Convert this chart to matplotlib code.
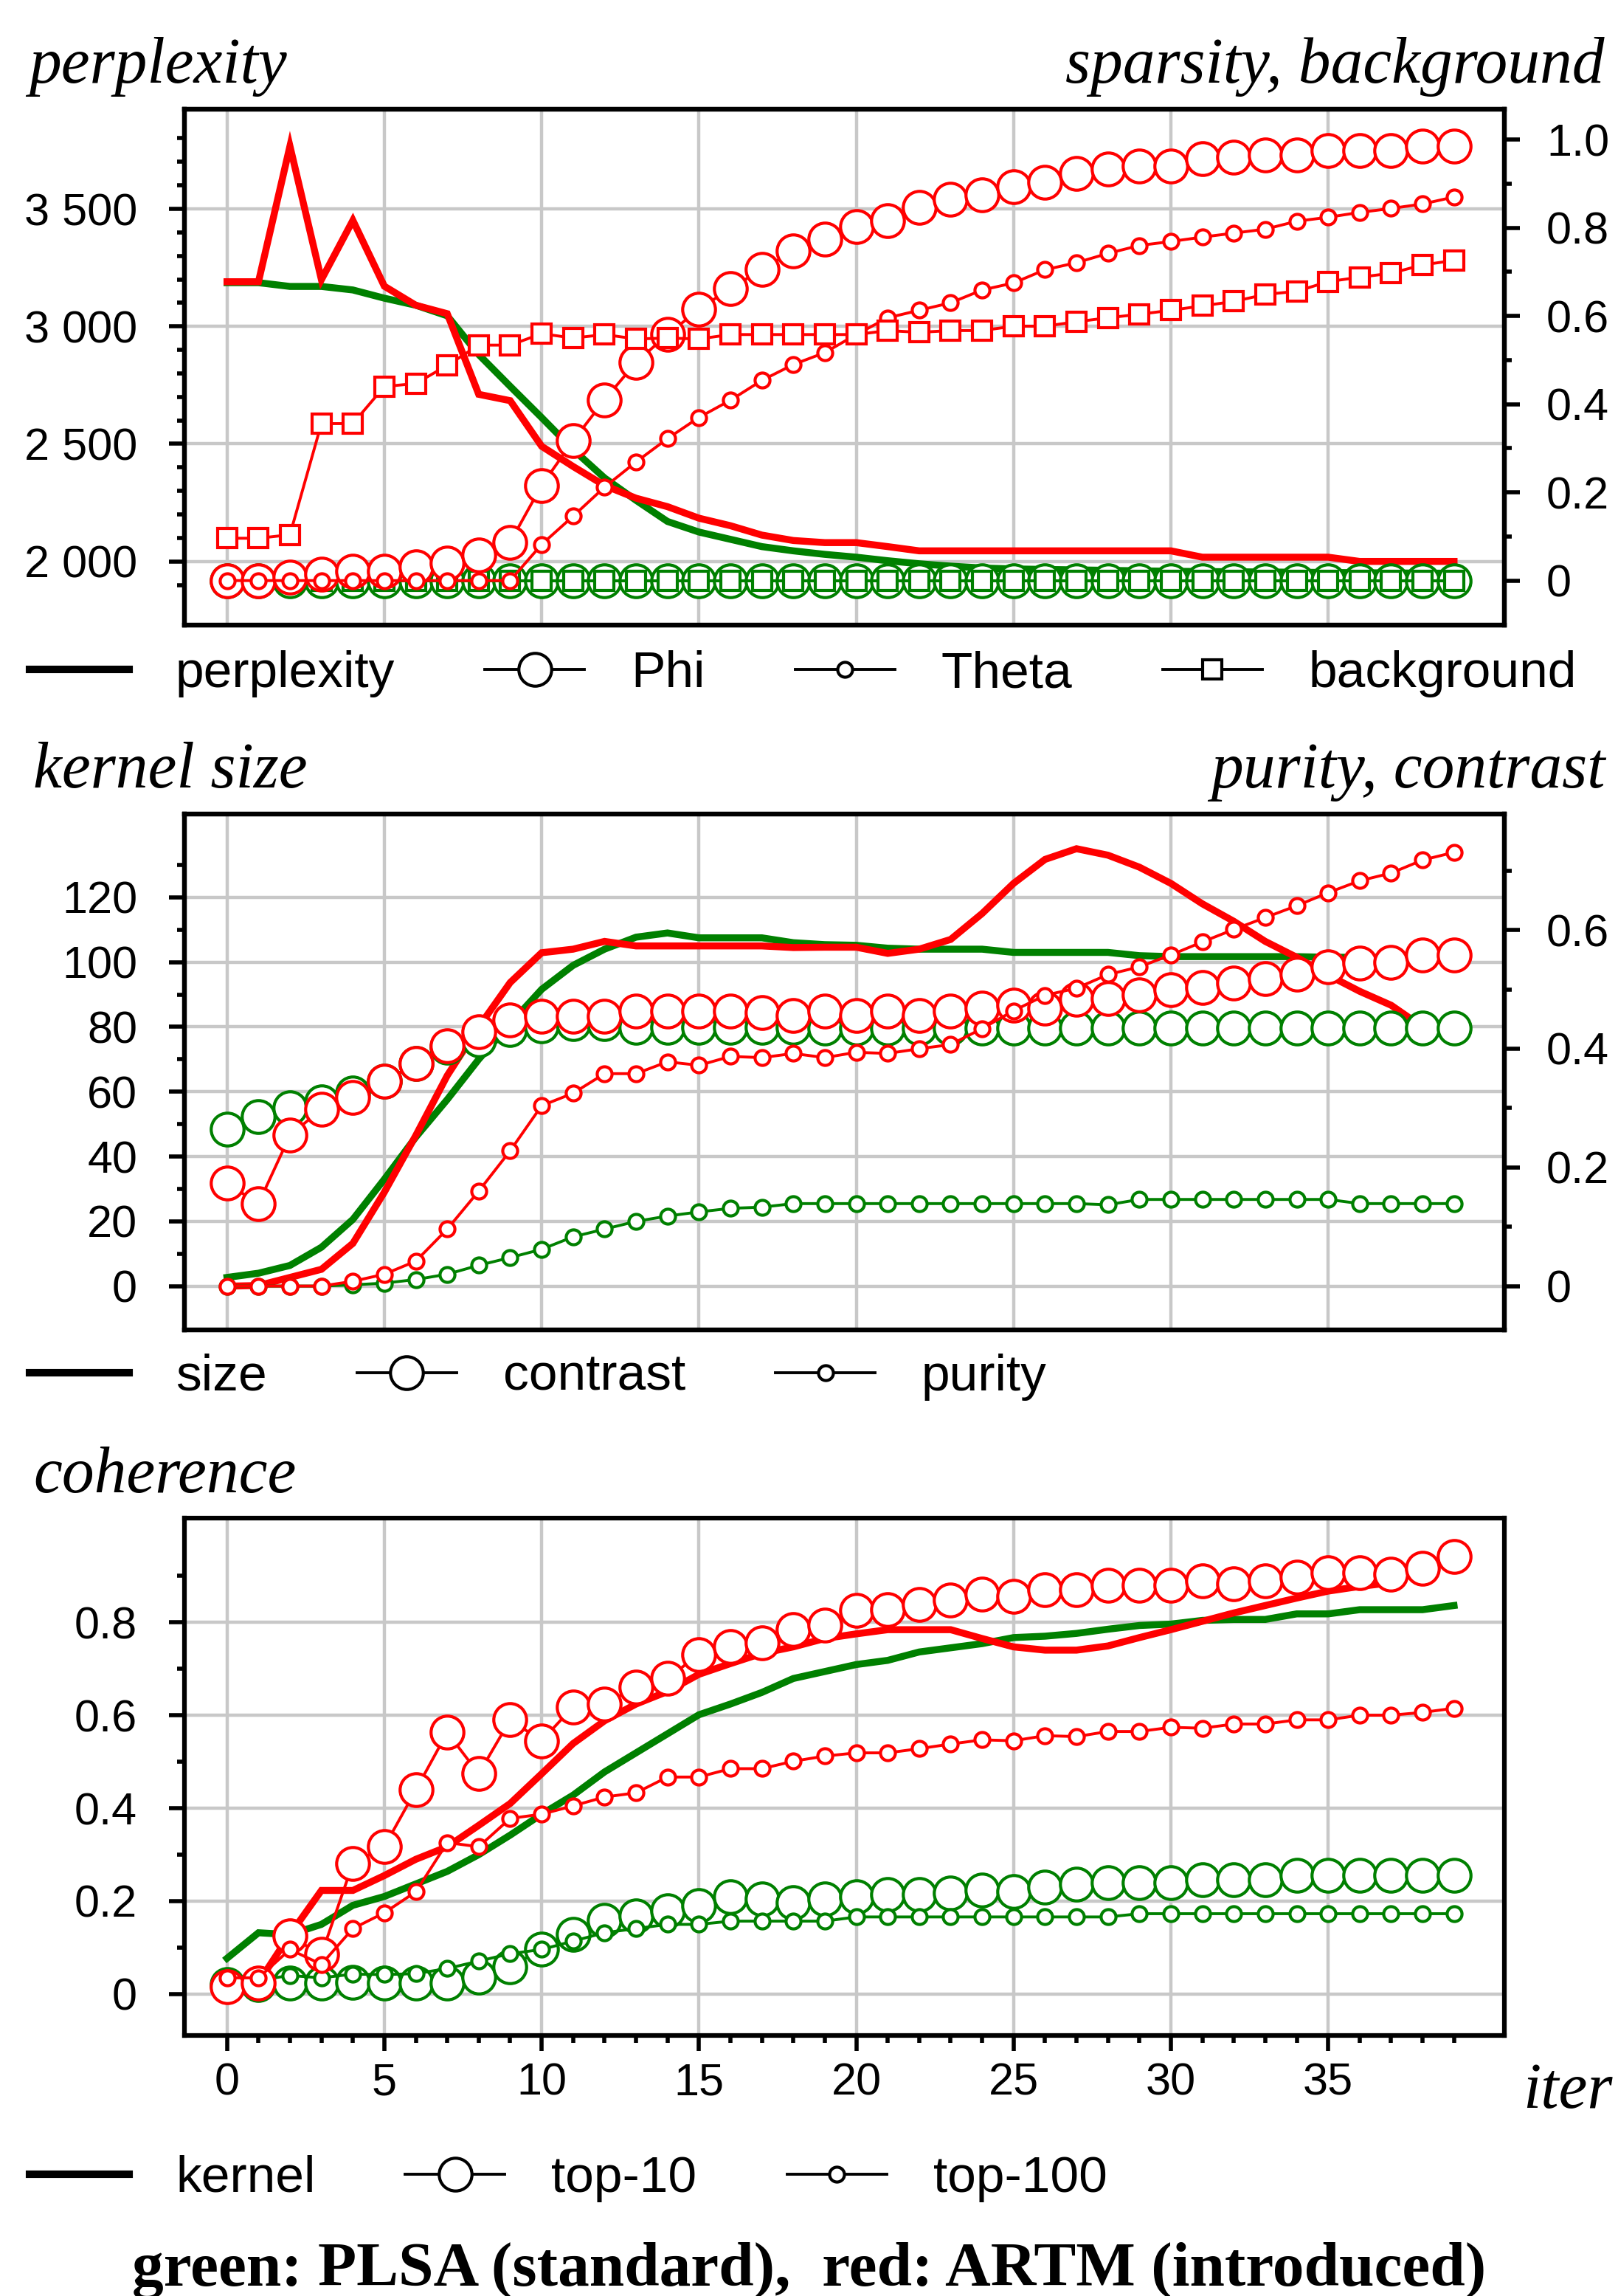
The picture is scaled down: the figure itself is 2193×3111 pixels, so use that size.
import numpy as np
import matplotlib
matplotlib.use("Agg")
import matplotlib.pyplot as plt
from matplotlib.font_manager import FontProperties
from matplotlib.ticker import FixedLocator, FuncFormatter
from matplotlib.lines import Line2D

nan = np.nan
iters = np.arange(40)

# ---------------- panel 1: perplexity / sparsity / background ----------------
plsa_perplexity = [3186, 3186, 3170, 3170, 3155, 3120, 3090, 3045, 2880, 2745,
                   2612, 2476, 2355, 2260, 2170, 2125, 2094, 2063, 2045, 2030,
                   2018, 2003, 1990, 1980, 1972, 1968, 1966, 1964, 1962, 1960,
                   1958, 1957, 1956, 1955, 1954, 1953, 1952, 1951, 1950, 1950]
artm_perplexity = [3190, 3190, 3767, 3199, 3451, 3171, 3090, 3054, 2711, 2684,
                   2490, 2404, 2323, 2269, 2233, 2184, 2152, 2112, 2089, 2080,
                   2080, 2063, 2045, 2045, 2045, 2045, 2045, 2045, 2045, 2045,
                   2045, 2018, 2018, 2018, 2018, 2018, 2000, 2000, 2000, 2000]
plsa_phi = [0.0] * 40
plsa_theta = [0.0] * 40
plsa_background = [0.0] * 40
artm_phi = [0.0, 0.0, 0.008, 0.014, 0.021, 0.021, 0.031, 0.040, 0.058, 0.087,
            0.216, 0.317, 0.410, 0.495, 0.558, 0.615, 0.663, 0.705, 0.748, 0.774,
            0.803, 0.817, 0.846, 0.865, 0.875, 0.894, 0.904, 0.923, 0.933, 0.940,
            0.940, 0.957, 0.960, 0.966, 0.966, 0.976, 0.976, 0.976, 0.986, 0.986]
artm_theta = [0.0, 0.0, 0.0, 0.0, 0.0, 0.0, 0.0, 0.0, 0.0, 0.0,
              0.082, 0.146, 0.212, 0.269, 0.322, 0.370, 0.409, 0.454, 0.490, 0.517,
              0.558, 0.596, 0.613, 0.630, 0.659, 0.675, 0.705, 0.721, 0.742, 0.760,
              0.769, 0.779, 0.788, 0.797, 0.815, 0.824, 0.835, 0.844, 0.854, 0.870]
artm_background = [0.096, 0.096, 0.104, 0.356, 0.356, 0.440, 0.447, 0.488, 0.534, 0.534,
                   0.560, 0.550, 0.558, 0.548, 0.550, 0.548, 0.558, 0.558, 0.558, 0.558,
                   0.558, 0.567, 0.563, 0.567, 0.567, 0.577, 0.577, 0.587, 0.596, 0.604,
                   0.613, 0.623, 0.633, 0.649, 0.656, 0.678, 0.688, 0.697, 0.716, 0.726]

# ---------------- panel 2: kernel size / purity / contrast ----------------
plsa_size = [2.7, 4.0, 6.4, 12.0, 20.6, 33.0, 46.0, 57.6, 70.0, 81.0,
             91.6, 99.0, 104.0, 107.7, 109.0, 107.5, 107.5, 107.5, 106.0, 105.4,
             105.2, 104.3, 104.0, 104.0, 104.0, 103.0, 103.0, 103.0, 103.0, 102.0,
             101.7, 101.7, 101.7, 101.7, 101.7, 101.5, 101.5, 101.5, 101.5, 101.5]
artm_size = [0.0, 0.2, 2.7, 5.2, 13.2, 29.0, 46.5, 65.0, 80.0, 93.7,
             102.9, 104.0, 106.4, 105.0, 105.0, 105.0, 105.0, 105.0, 104.5, 104.6,
             104.6, 102.7, 104.0, 107.0, 115.0, 124.3, 131.7, 135.0, 133.0, 129.3,
             124.3, 118.0, 112.6, 106.4, 101.5, 96.0, 91.0, 86.7, 80.0, nan]
plsa_contrast = [0.265, 0.286, 0.300, 0.310, 0.325, 0.345, 0.375, 0.402, 0.415, 0.432,
                 0.439, 0.442, 0.442, 0.436, 0.436, 0.436, 0.436, 0.436, 0.436, 0.435,
                 0.435, 0.435, 0.435, 0.435, 0.435, 0.435, 0.435, 0.435, 0.435, 0.435,
                 0.435, 0.435, 0.435, 0.435, 0.435, 0.435, 0.435, 0.435, 0.435, 0.435]
artm_contrast = [0.173, 0.139, 0.254, 0.298, 0.318, 0.345, 0.375, 0.405, 0.429, 0.449,
                 0.455, 0.455, 0.455, 0.463, 0.463, 0.463, 0.463, 0.461, 0.456, 0.463,
                 0.456, 0.463, 0.456, 0.464, 0.468, 0.473, 0.469, 0.483, 0.484, 0.491,
                 0.500, 0.503, 0.511, 0.518, 0.525, 0.538, 0.544, 0.545, 0.558, 0.558]
plsa_purity = [0.0, 0.0, 0.0, 0.0, 0.002, 0.005, 0.011, 0.020, 0.035, 0.048,
               0.062, 0.083, 0.096, 0.109, 0.118, 0.125, 0.131, 0.133, 0.139, 0.139,
               0.139, 0.139, 0.139, 0.139, 0.139, 0.139, 0.139, 0.139, 0.137, 0.146,
               0.146, 0.146, 0.146, 0.146, 0.146, 0.146, 0.139, 0.139, 0.139, 0.139]
artm_purity = [0.0, 0.0, 0.0, 0.0, 0.008, 0.020, 0.042, 0.096, 0.160, 0.228,
               0.304, 0.325, 0.358, 0.358, 0.378, 0.372, 0.387, 0.385, 0.392, 0.385,
               0.394, 0.392, 0.400, 0.407, 0.434, 0.464, 0.490, 0.502, 0.525, 0.538,
               0.558, 0.580, 0.601, 0.621, 0.641, 0.663, 0.683, 0.696, 0.718, 0.731]

# ---------------- panel 3: coherence ----------------
plsa_kernel = [0.077, 0.132, 0.128, 0.150, 0.191, 0.210, 0.237, 0.264, 0.300, 0.342,
               0.387, 0.428, 0.478, 0.519, 0.560, 0.601, 0.624, 0.649, 0.679, 0.694,
               0.709, 0.718, 0.736, 0.745, 0.754, 0.767, 0.770, 0.776, 0.785, 0.793,
               0.796, 0.804, 0.806, 0.806, 0.818, 0.818, 0.827, 0.827, 0.827, 0.836]
artm_kernel = [0.018, 0.025, 0.128, 0.223, 0.223, 0.255, 0.290, 0.317, 0.363, 0.410,
               0.474, 0.539, 0.588, 0.624, 0.651, 0.688, 0.711, 0.733, 0.747, 0.765,
               0.775, 0.784, 0.784, 0.784, 0.765, 0.747, 0.740, 0.740, 0.749, 0.767,
               0.784, 0.802, 0.820, 0.836, 0.852, 0.867, 0.877, 0.885, nan, nan]
plsa_top10 = [0.020, 0.020, 0.024, 0.024, 0.026, 0.024, 0.023, 0.023, 0.036, 0.059,
              0.096, 0.128, 0.159, 0.169, 0.180, 0.190, 0.210, 0.205, 0.196, 0.205,
              0.210, 0.214, 0.214, 0.217, 0.223, 0.220, 0.230, 0.237, 0.239, 0.239,
              0.239, 0.246, 0.246, 0.246, 0.255, 0.255, 0.255, 0.255, 0.255, 0.255]
artm_top10 = [0.016, 0.024, 0.125, 0.085, 0.281, 0.317, 0.439, 0.563, 0.474, 0.590,
              0.545, 0.618, 0.624, 0.661, 0.679, 0.731, 0.747, 0.756, 0.784, 0.793,
              0.825, 0.827, 0.838, 0.847, 0.861, 0.855, 0.870, 0.870, 0.879, 0.879,
              0.879, 0.889, 0.882, 0.889, 0.897, 0.907, 0.907, 0.904, 0.916, 0.941]
plsa_top100 = [0.030, 0.030, 0.040, 0.035, 0.043, 0.042, 0.044, 0.055, 0.071, 0.087,
               0.096, 0.114, 0.132, 0.141, 0.150, 0.150, 0.157, 0.157, 0.157, 0.157,
               0.166, 0.166, 0.166, 0.166, 0.166, 0.166, 0.166, 0.166, 0.166, 0.173,
               0.173, 0.173, 0.173, 0.173, 0.173, 0.173, 0.173, 0.173, 0.173, 0.173]
artm_top100 = [0.035, 0.035, 0.096, 0.064, 0.141, 0.175, 0.220, 0.326, 0.317, 0.378,
               0.387, 0.405, 0.424, 0.433, 0.467, 0.467, 0.485, 0.485, 0.501, 0.512,
               0.519, 0.519, 0.528, 0.538, 0.547, 0.545, 0.556, 0.554, 0.565, 0.565,
               0.574, 0.572, 0.581, 0.581, 0.590, 0.590, 0.600, 0.600, 0.606, 0.615]

x_major = [0, 5, 10, 15, 20, 25, 30, 35]

# ---------------- fonts ----------------
SANS = 'Liberation Sans'
SERIF = 'Liberation Serif'
plt.rcParams['font.family'] = [SANS, 'DejaVu Sans']

GREEN = '#008000'
RED = '#ff0000'
GRID = '#c8c8c8'
BIG, SMALL, SQ = 32, 14.5, 18.5
MEW = 3.0
THIN = 2.8
THICK = 6.8
TICKFS = 44
LEGFS = 50
TITLEFS = 63

W_PX, H_PX = 2193, 3111
fig = plt.figure(figsize=(W_PX / 100, H_PX / 100), dpi=100)


def fx(px):
    return px / W_PX


def fy(py):
    return 1 - py / H_PX


L = fx(250)
WID = (2039 - 250) / W_PX
ax1 = fig.add_axes([L, fy(847), WID, 699 / H_PX])
ax2 = fig.add_axes([L, fy(1802), WID, 699 / H_PX])
ax3 = fig.add_axes([L, fy(2758), WID, 701 / H_PX])
XLIM = (-1.353, 40.60)


def base_style(ax):
    ax.set_xlim(*XLIM)
    ax.set_axisbelow(True)
    ax.xaxis.set_major_locator(FixedLocator(x_major))
    ax.grid(True, which='major', color=GRID, linewidth=3.2)
    for s in ax.spines.values():
        s.set_linewidth(4.5)
    ax.tick_params(axis='y', which='major', direction='out', length=15, width=4,
                   labelsize=TICKFS, pad=31)
    ax.tick_params(axis='y', which='minor', direction='out', length=7, width=4)


def twin_style(t):
    for s in t.spines.values():
        s.set_linewidth(4.5)
    t.tick_params(axis='y', which='major', direction='out', length=15, width=4,
                  labelsize=TICKFS, pad=26)
    t.tick_params(axis='y', which='minor', direction='out', length=7, width=4)


def frac_fmt(v, p):
    return '0' if abs(v) < 1e-9 else f'{v:.1f}'


def thousands_fmt(v, p):
    return f'{int(round(v)):,}'.replace(',', ' ')


def draw_line(ax, y, c):
    ax.plot(iters, y, color=c, lw=THICK, solid_joinstyle='miter')


def draw_marks(ax, y, c, marker, ms):
    ax.plot(iters, y, color=c, lw=THIN, marker=marker, ms=ms, mfc='white',
            mec=c, mew=MEW)


# ---------------- panel 1 ----------------
base_style(ax1)
ax1.set_ylim(1729, 3924)
ax1.yaxis.set_major_locator(FixedLocator([2000, 2500, 3000, 3500]))
ax1.yaxis.set_minor_locator(FixedLocator([1900, 2100, 2200, 2300, 2400, 2600, 2700,
                                          2800, 2900, 3100, 3200, 3300, 3400,
                                          3600, 3700, 3800]))
ax1.yaxis.set_major_formatter(FuncFormatter(thousands_fmt))
ax1.tick_params(axis='x', which='both', bottom=False, labelbottom=False)
ax1t = ax1.twinx()
twin_style(ax1t)
ax1t.set_ylim(-0.101, 1.069)
ax1t.yaxis.set_major_locator(FixedLocator([0, 0.2, 0.4, 0.6, 0.8, 1.0]))
ax1t.yaxis.set_minor_locator(FixedLocator([0.1, 0.3, 0.5, 0.7, 0.9]))
ax1t.yaxis.set_major_formatter(FuncFormatter(frac_fmt))

draw_line(ax1, plsa_perplexity, GREEN)
draw_line(ax1, artm_perplexity, RED)
draw_marks(ax1t, plsa_phi, GREEN, 'o', BIG)
draw_marks(ax1t, plsa_theta, GREEN, 'o', SMALL)
draw_marks(ax1t, plsa_background, GREEN, 's', SQ)
draw_marks(ax1t, artm_phi, RED, 'o', BIG)
draw_marks(ax1t, artm_theta, RED, 'o', SMALL)
draw_marks(ax1t, artm_background, RED, 's', SQ)

# ---------------- panel 2 ----------------
base_style(ax2)
ax2.set_ylim(-13.5, 145.7)
ax2.yaxis.set_major_locator(FixedLocator([0, 20, 40, 60, 80, 100, 120]))
ax2.yaxis.set_minor_locator(FixedLocator([10, 30, 50, 70, 90, 110, 130]))
ax2.tick_params(axis='x', which='both', bottom=False, labelbottom=False)
ax2t = ax2.twinx()
twin_style(ax2t)
ax2t.set_ylim(-0.0739, 0.7955)
ax2t.yaxis.set_major_locator(FixedLocator([0, 0.2, 0.4, 0.6]))
ax2t.yaxis.set_minor_locator(FixedLocator([0.1, 0.3, 0.5, 0.7]))
ax2t.yaxis.set_major_formatter(FuncFormatter(frac_fmt))

draw_line(ax2, plsa_size, GREEN)
draw_line(ax2, artm_size, RED)
draw_marks(ax2t, plsa_contrast, GREEN, 'o', BIG)
draw_marks(ax2t, artm_contrast, RED, 'o', BIG)
draw_marks(ax2t, plsa_purity, GREEN, 'o', SMALL)
draw_marks(ax2t, artm_purity, RED, 'o', SMALL)

# ---------------- panel 3 ----------------
base_style(ax3)
ax3.set_ylim(-0.089, 1.024)
ax3.yaxis.set_major_locator(FixedLocator([0, 0.2, 0.4, 0.6, 0.8]))
ax3.yaxis.set_minor_locator(FixedLocator([0.1, 0.3, 0.5, 0.7, 0.9]))
ax3.yaxis.set_major_formatter(FuncFormatter(frac_fmt))
ax3.xaxis.set_minor_locator(FixedLocator(list(range(40))))
ax3.tick_params(axis='x', which='major', direction='out', length=15, width=4,
                labelsize=TICKFS, pad=11)
ax3.tick_params(axis='x', which='minor', direction='out', length=7, width=4)

draw_line(ax3, plsa_kernel, GREEN)
draw_marks(ax3, plsa_top10, GREEN, 'o', BIG)
draw_marks(ax3, plsa_top100, GREEN, 'o', SMALL)
draw_line(ax3, artm_kernel, RED)
draw_marks(ax3, artm_top10, RED, 'o', BIG)
draw_marks(ax3, artm_top100, RED, 'o', SMALL)

# ---------------- titles ----------------
tkw = dict(family=SERIF, style='italic', fontsize=TITLEFS, va='baseline')
fig.text(fx(39), fy(112), 'perplexity', ha='left', **tkw)
fig.text(fx(2175), fy(112), 'sparsity, background', ha='right', **tkw)
fig.text(fx(45), fy(1067), 'kernel size', ha='left', **tkw)
fig.text(fx(2176), fy(1067), 'purity, contrast', ha='right', **tkw)
fig.text(fx(45), fy(2022), 'coherence', ha='left', **tkw)
fig.text(fx(2064), fy(2856), 'iter', ha='left', **tkw)

# ---------------- legends ----------------
legprop = FontProperties(family=[SANS, 'DejaVu Sans'], size=LEGFS)
EM = LEGFS * 100 / 72


def h_line():
    return Line2D([], [], color='black', lw=THICK + 0.5)


def h_mark(marker, ms):
    return Line2D([], [], color='black', lw=THIN, marker=marker, ms=ms,
                  mfc='white', mec='black', mew=MEW)


def add_legend(handles, labels, yc):
    fig.legend(handles, labels, loc='center left', bbox_to_anchor=(fx(40), fy(yc)),
               ncol=len(labels), frameon=False, prop=legprop,
               handlelength=135 / EM, handletextpad=63 / EM,
               columnspacing=122 / EM, borderpad=0, borderaxespad=0, numpoints=1)


add_legend([h_line(), h_mark('o', BIG), h_mark('o', SMALL), h_mark('s', SQ)],
           ['perplexity', 'Phi', 'Theta', 'background'], 913)
add_legend([h_line(), h_mark('o', BIG), h_mark('o', SMALL)],
           ['size', 'contrast', 'purity'], 1866)
add_legend([h_line(), h_mark('o', BIG), h_mark('o', SMALL)],
           ['kernel', 'top-10', 'top-100'], 2952)

# ---------------- bottom caption ----------------
cap = fig.text(fx(1097), fy(3097), 'green: PLSA (standard),  red: ARTM (introduced)',
               ha='center', va='baseline', family=SERIF, weight='bold', fontsize=50)
fig.canvas.draw()
w = cap.get_window_extent().width
cap.set_fontsize(50 * 1836 / w)

fig.savefig('out.png', dpi=100)
